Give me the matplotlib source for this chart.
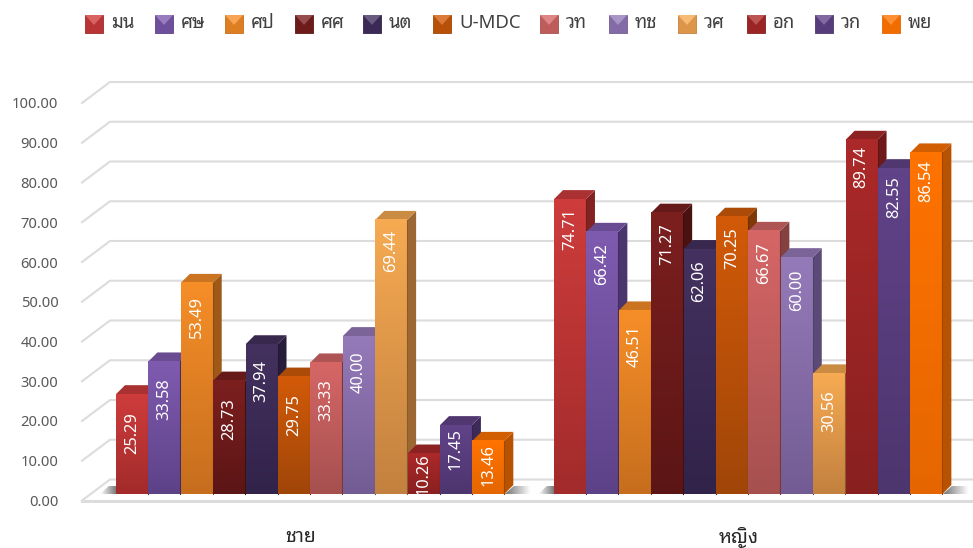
import numpy as np
import matplotlib
matplotlib.use("Agg")
import matplotlib.pyplot as plt
from matplotlib.patches import Polygon

plt.rcParams['font.family'] = ['Noto Sans', 'Noto Sans Thai Looped']

# ข้อมูล
groups = ['ชาย', 'หญิง']
faculties = ['มน', 'ศษ', 'ศป', 'ศศ', 'นต', 'U-MDC', 'วท', 'ทช', 'วศ', 'อก', 'วก', 'พย']
male = [25.29, 33.58, 53.49, 28.73, 37.94, 29.75, 33.33, 40.00, 69.44, 10.26, 17.45, 13.46]
female = [74.71, 66.42, 46.51, 71.27, 62.06, 70.25, 66.67, 60.00, 30.56, 89.74, 82.55, 86.54]
y_ticks = [0, 10, 20, 30, 40, 50, 60, 70, 80, 90, 100]

# สีของแท่ง: บน, ล่าง
color_top = ['#CE3C3C', '#7F5BB0', '#F68E28', '#7C1F1F', '#44315F', '#D25A08',
             '#D66666', '#957AB9', '#F6AA52', '#AC2929', '#614389', '#FF7300']
color_bot = ['#A32B2B', '#5D4288', '#C66E1E', '#5C1515', '#32234A', '#A04608',
             '#A65050', '#735C93', '#C3813F', '#892020', '#4D356E', '#E56600']

W, H = 973, 548
fig = plt.figure(figsize=(W / 100, H / 100), dpi=100)

# แกนหลัก: หน่วย x = ความกว้างแท่ง 1 แท่ง, หน่วย y = ค่าเปอร์เซ็นต์
left, right, top, bottom = 82, 973, 70, 500.5
ax = fig.add_axes([left / W, 1 - bottom / H, (right - left) / W, (bottom - top) / H])
px_x = 32.4
px_y = 3.975
x0 = (left - 116) / px_x
ax.set_xlim(x0, (right - 116) / px_x)
ax.set_ylim(0, (bottom - top) / px_y)
for s in ax.spines.values():
    s.set_visible(False)

# เส้นกริดแบบ 3 มิติ
back_x = x0 + 28 / px_x
back_y = 21 / px_y
for v in y_ticks:
    ax.plot([x0, back_x, ax.get_xlim()[1]], [v, v + back_y, v + back_y],
            color='#DCDCDC', lw=1.5, zorder=1, clip_on=False)
ax.plot([x0, ax.get_xlim()[1]], [0, 0], color='#DCDCDC', lw=2.2, zorder=1, clip_on=False)

ax.set_yticks(y_ticks)
ax.set_yticklabels([f'{v:.2f}' for v in y_ticks], color='#595959', fontsize=10.6)
ax.tick_params(axis='y', length=0, pad=17)

base = 6.5 / px_y          # ฐานแท่งอยู่ถัดจากขอบหน้าของพื้น


def hex_rgb(c):
    return np.array(matplotlib.colors.to_rgb(c))


def draw_bar(x, val, c_top, c_bot, z):
    w = 0.985
    dx = 9 / px_x
    dy = 9 / px_y
    y1 = base + val * 0.993
    rt, rb = hex_rgb(c_top), hex_rgb(c_bot)

    side = Polygon([(x + w, base), (x + w + dx, base + dy), (x + w + dx, y1 + dy), (x + w, y1)],
                   closed=True, fc=rb * 0.8, ec='none', zorder=z)
    ax.add_patch(side)
    roof = Polygon([(x, y1), (x + dx, y1 + dy), (x + w + dx, y1 + dy), (x + w, y1)],
                   closed=True, fc=rt * 0.82, ec='none', zorder=z)
    ax.add_patch(roof)

    t = np.linspace(0, 1, 64)[:, None, None]
    grad = rt[None, None, :] * (1 - t) + rb[None, None, :] * t
    ax.imshow(grad, extent=(x, x + w, base, y1), origin='upper', aspect='auto',
              interpolation='bilinear', zorder=z + 0.1)
    ax.plot([x + w, x + w], [base, y1], color=rb * 0.7, lw=0.8, zorder=z + 0.2)

    # ป้ายค่าแนวตั้ง
    if val < 20:
        drop = min((y1 - base) / 2, 6)
    else:
        drop = 11 - 0.045 * val
    ax.text(x + w / 2, y1 - drop, f'{val:.2f}', rotation=90, color='white',
            ha='center', va='center', fontsize=11.8, zorder=z + 0.3)


def floor_shadow(x_a, x_b, dark_right):
    # เงาจาง ๆ บนพื้นข้างกลุ่มแท่ง
    fade = np.zeros((1, 32, 4))
    fade[..., 3] = np.linspace(0, 0.55, 32) if dark_right else np.linspace(0.55, 0, 32)
    im = ax.imshow(fade, extent=(x_a, x_b, base, base + 8 / px_y), aspect='auto',
                   interpolation='bilinear', zorder=2)
    skew = 9 / px_x
    clip = Polygon([(x_a, base), (x_b, base), (x_b + skew, base + 8 / px_y), (x_a + skew, base + 8 / px_y)],
                   closed=True, transform=ax.transData)
    im.set_clip_path(clip)


group_start = [0, 13.52]
group_vals = [male, female]
z = 3
for start, vals in zip(group_start, group_vals):
    floor_shadow(start - 0.5, start, True)
    floor_shadow(start + 12, start + 12.8, False)
    for i, v in enumerate(vals):
        draw_bar(start + i, v, color_top[i], color_bot[i], z)
        z += 1

ax.set_xlim(x0, (right - 116) / px_x)
ax.set_ylim(0, (bottom - top) / px_y)

# ป้ายกลุ่ม
ax.set_xticks([s + 6 - 0.3 for s in group_start])
ax.set_xticklabels(groups, color='#262626', fontsize=14, fontweight='bold')
ax.tick_params(axis='x', length=0, pad=19)

# คำอธิบายสัญลักษณ์ (สี่เหลี่ยมแบบปิรามิด)
lg = fig.add_axes([0, 0, 1, 1])
lg.set_xlim(0, W)
lg.set_ylim(H, 0)
lg.axis('off')
legend_x = [85, 155, 225, 295, 363, 433, 540, 609, 678, 747, 815, 882]
size = 18
y_top = 15
for xp, name, ct, cb in zip(legend_x, faculties, color_top, color_bot):
    rt, rb = hex_rgb(ct), hex_rgb(cb)
    mid = (rt + rb) / 2
    cx, cy = xp + size / 2, y_top + size * 0.55
    corners = [(xp, y_top), (xp + size, y_top), (xp + size, y_top + size), (xp, y_top + size)]
    lg.add_patch(Polygon(corners, closed=True, fc=mid, ec=rb, lw=0.6))
    lg.add_patch(Polygon([corners[0], corners[1], (cx, cy)], closed=True,
                         fc=np.clip(rt * 0.8 + 0.2, 0, 1), ec='none'))
    lg.text(xp + size + 8, y_top + size / 2 - 1, name, color='#404040', fontsize=13.4,
            ha='left', va='center')

fig.savefig('out.png', dpi=100)
